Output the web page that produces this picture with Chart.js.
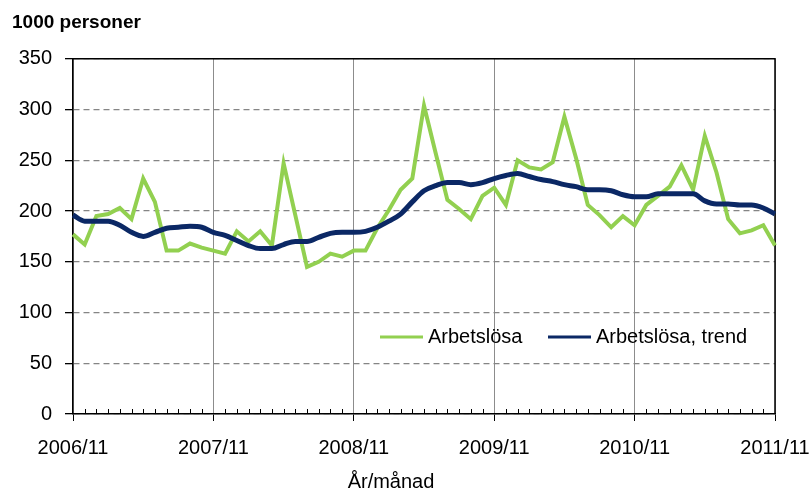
<!DOCTYPE html>
<html>
<head>
<meta charset="utf-8">
<script src="https://cdn.jsdelivr.net/npm/chart.js@4/dist/chart.umd.min.js"></script>
<style>
  html, body { margin: 0; padding: 0; background: #fff; }
  canvas { display: block; }
</style>
</head>
<body>
<canvas id="myChart" width="810" height="493"></canvas>
<script>
// data (1000 persons, monthly 2006/11 - 2011/11)
const startYear = 2006;
const startMonth = 11;
const seriesNames = ['Arbetslösa', 'Arbetslösa, trend'];
const xTitle = 'År/månad';
const arbetslosa = [
  177, 167, 195, 197, 203, 192, 232, 209, 161, 161, 168, 164,
  161, 158, 180, 170, 180, 166, 247, 196, 145, 150, 158, 155,
  161, 161, 183, 201, 221, 232, 304, 257, 211, 202, 192, 215,
  223, 206, 250, 243, 241, 248, 293, 252, 206, 196, 184, 195,
  186, 206, 215, 224, 245, 221, 274, 238, 192, 178, 181, 186,
  166
];
const trend = [
  196, 190, 190, 190, 186, 179, 175, 179, 183, 184, 185, 184,
  179, 176, 171, 166, 163, 163, 167, 170, 170, 174, 178, 179,
  179, 180, 184, 190, 197, 209, 220, 225, 228, 228, 226, 228,
  232, 235, 237, 234, 231, 229, 226, 224, 221, 221, 220, 216,
  214, 214, 217, 217, 217, 217, 210, 207, 207, 206, 206, 203,
  197
];
const yTicks = [0, 50, 100, 150, 200, 250, 300, 350];

// month labels like 2006/11
const labels = [];
for (let i = 0; i < arbetslosa.length; i++) {
  const m = startMonth - 1 + i;
  const y = startYear + Math.floor(m / 12);
  const mm = (m % 12) + 1;
  labels.push(y + '/' + (mm < 10 ? '0' + mm : mm));
}

const FONT = "'Liberation Sans', Arial, sans-serif";
Chart.defaults.font.family = FONT;
Chart.defaults.color = '#000';

// plot frame, monthly minor ticks, axis title and in-plot legend
const frame = {
  id: 'frame',
  beforeDatasetsDraw(chart) {
    const {ctx, chartArea: a, scales} = chart;
    ctx.save();
    ctx.strokeStyle = '#000';
    ctx.lineWidth = 1.5;
    ctx.beginPath();
    ctx.moveTo(a.left, a.top);
    ctx.lineTo(a.right, a.top);
    ctx.lineTo(a.right, a.bottom);
    ctx.stroke();
    ctx.lineWidth = 1;
    ctx.beginPath();
    for (let i = 0; i < labels.length; i++) {
      if (i % 12 === 0) continue;
      const x = Math.round(scales.x.getPixelForTick(i)) + 0.5;
      ctx.moveTo(x, a.bottom);
      ctx.lineTo(x, a.bottom - 5);
    }
    ctx.stroke();
    ctx.restore();
  },
  afterDraw(chart) {
    const {ctx} = chart;
    const ds = chart.data.datasets;
    const y = 337;
    const starts = [380, 548];
    ctx.save();
    ctx.font = '20px ' + FONT;
    ctx.textBaseline = 'middle';
    ctx.fillStyle = '#000';
    ds.forEach((d, i) => {
      ctx.strokeStyle = d.borderColor;
      ctx.lineWidth = 3;
      ctx.beginPath();
      ctx.moveTo(starts[i], y);
      ctx.lineTo(starts[i] + 43, y);
      ctx.stroke();
      ctx.fillText(d.label, starts[i] + 48, y);
    });
    // x axis title, sits left of the plot centre in the original
    ctx.textAlign = 'center';
    ctx.fillText(xTitle, 391, 482);
    ctx.restore();
  }
};

const ctx = document.getElementById('myChart').getContext('2d');
const myChart = new Chart(ctx, {
  type: 'line',
  data: {
    labels: labels,
    datasets: [{
      label: seriesNames[0],
      data: arbetslosa,
      borderColor: '#92d050',
      backgroundColor: '#92d050',
      borderWidth: 4,
      pointRadius: 0,
      tension: 0,
      order: 1
    }, {
      label: seriesNames[1],
      data: trend,
      borderColor: '#0b2865',
      backgroundColor: '#0b2865',
      borderWidth: 5,
      pointRadius: 0,
      cubicInterpolationMode: 'monotone',
      order: 0
    }]
  },
  options: {
    responsive: false,
    animation: false,
    layout: { padding: { left: 12, right: 35, top: 0, bottom: 0 } },
    plugins: {
      legend: { display: false },
      tooltip: { enabled: false },
      title: {
        display: true,
        text: '1000 personer',
        align: 'start',
        color: '#000',
        font: { size: 19, weight: 'bold' },
        padding: { top: 11, bottom: 25 }
      }
    },
    scales: {
      x: {
        offset: false,
        afterFit: (s) => { s.height = 79; s.paddingLeft = 0; s.paddingRight = 0; },
        border: { color: '#000', width: 1.5 },
        grid: {
          color: (c) => c.index % 12 === 0 ? '#8c8c8c' : 'rgba(0,0,0,0)',
          tickColor: (c) => c.index % 12 === 0 ? '#000' : 'rgba(0,0,0,0)',
          tickLength: 7,
          lineWidth: 1
        },
        ticks: {
          autoSkip: false,
          maxRotation: 0,
          padding: 15,
          font: { size: 20 },
          color: '#000',
          callback: (v, i) => i % 12 === 0 ? labels[i] : ''
        }
      },
      y: {
        min: yTicks[0],
        max: yTicks[yTicks.length - 1],
        afterFit: (s) => { s.width = 61; },
        afterBuildTicks: (s) => { s.ticks = yTicks.map(v => ({ value: v })); },
        border: { color: '#000', width: 1.5, dash: [6, 4] },
        grid: {
          color: '#858585',
          lineWidth: 1.3,
          tickColor: '#000',
          tickLength: 8
        },
        ticks: {
          padding: 13,
          font: { size: 20 },
          color: '#000'
        }
      }
    }
  },
  plugins: [frame]
});
</script>
</body>
</html>
